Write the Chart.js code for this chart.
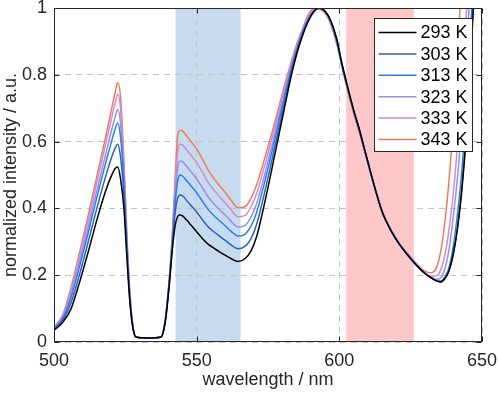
<!DOCTYPE html>
<html>
<head>
<meta charset="utf-8">
<script src="https://cdn.jsdelivr.net/npm/chart.js@4.4.1/dist/chart.umd.min.js"></script>
<style>
  html, body { margin: 0; padding: 0; background: #fff; }
  #chart { display: block; }
</style>
</head>
<body>
<canvas id="chart" width="498" height="393"></canvas>
<script>
// wavelength samples (nm)
const wavelengths = [
    500, 503, 506, 509, 512, 515, 518, 520, 521.5, 522.3,
    523.3, 524.5, 525.5, 526.5, 527.5, 528.7,
    533, 537.5,
    539, 540.5, 541.5, 542.5, 543.3, 544.1,
    545, 546.5, 548, 550, 552, 554, 556, 558, 560, 562, 564.5,
    567, 569, 571, 573, 575, 577, 579, 581, 583, 585, 587, 589, 591, 593,
    595, 597, 599, 601, 603, 605, 607, 609, 611, 613, 615, 618, 621, 624, 627,
    630, 632, 634, 635.5, 637, 638.5, 640, 641.5, 643, 644.5, 646, 648, 650
];

const k293 = [
    0.035, 0.058, 0.1, 0.18, 0.27, 0.365, 0.45, 0.495, 0.52, 0.524,
    0.49, 0.40, 0.26, 0.13, 0.05, 0.015,
    0.012, 0.015,
    0.06, 0.18, 0.28, 0.35, 0.375, 0.38,
    0.378, 0.365, 0.35, 0.33, 0.31, 0.293, 0.281, 0.27, 0.26, 0.25, 0.241,
    0.25, 0.272, 0.315, 0.385, 0.463, 0.545, 0.628, 0.71, 0.792, 0.86, 0.915, 0.958, 0.988, 1.0,
    0.99, 0.962, 0.91, 0.83, 0.76, 0.695, 0.637, 0.572, 0.507, 0.445, 0.39, 0.335, 0.293, 0.26, 0.23,
    0.205, 0.193, 0.183, 0.18, 0.19, 0.215, 0.265, 0.345, 0.46, 0.62, 0.85, 1.15, 1.45
];
const k303 = [
    0.038, 0.064, 0.118, 0.204, 0.300, 0.400, 0.493, 0.548, 0.582, 0.592,
    0.555, 0.44, 0.28, 0.138, 0.052, 0.015,
    0.012, 0.015,
    0.062, 0.185, 0.29, 0.39, 0.43, 0.44,
    0.438, 0.424, 0.409, 0.389, 0.366, 0.345, 0.330, 0.317, 0.304, 0.291, 0.279,
    0.287, 0.309, 0.352, 0.418, 0.492, 0.569, 0.647, 0.725, 0.802, 0.867, 0.92, 0.961, 0.99, 1.0,
    0.99, 0.961, 0.908, 0.829, 0.759, 0.694, 0.636, 0.571, 0.507, 0.445, 0.39, 0.335, 0.293, 0.26, 0.23,
    0.205, 0.193, 0.183, 0.18, 0.19, 0.216, 0.268, 0.35, 0.47, 0.635, 0.87, 1.17, 1.45
];
const k313 = [
    0.040, 0.069, 0.134, 0.227, 0.327, 0.433, 0.533, 0.596, 0.640, 0.656,
    0.615, 0.48, 0.30, 0.145, 0.055, 0.015,
    0.012, 0.015,
    0.064, 0.19, 0.30, 0.42, 0.48, 0.50,
    0.497, 0.483, 0.468, 0.447, 0.422, 0.397, 0.379, 0.363, 0.348, 0.332, 0.317,
    0.323, 0.346, 0.388, 0.451, 0.52, 0.592, 0.667, 0.741, 0.812, 0.874, 0.924, 0.965, 0.991, 1.0,
    0.989, 0.959, 0.905, 0.827, 0.757, 0.692, 0.634, 0.57, 0.506, 0.445, 0.39, 0.335, 0.294, 0.261, 0.231,
    0.206, 0.194, 0.184, 0.183, 0.195, 0.225, 0.29, 0.39, 0.52, 0.7, 0.93, 1.25, 1.5
];
const k323 = [
    0.042, 0.073, 0.144, 0.241, 0.345, 0.453, 0.559, 0.628, 0.676, 0.696,
    0.655, 0.5, 0.31, 0.15, 0.057, 0.015,
    0.012, 0.015,
    0.066, 0.193, 0.31, 0.44, 0.52, 0.542,
    0.540, 0.526, 0.51, 0.488, 0.462, 0.435, 0.414, 0.396, 0.38, 0.362, 0.344,
    0.349, 0.373, 0.414, 0.474, 0.541, 0.609, 0.680, 0.751, 0.819, 0.879, 0.928, 0.967, 0.992, 1.0,
    0.988, 0.957, 0.902, 0.825, 0.755, 0.69, 0.632, 0.569, 0.505, 0.445, 0.39, 0.336, 0.294, 0.262, 0.232,
    0.207, 0.195, 0.188, 0.192, 0.22, 0.28, 0.38, 0.5, 0.66, 0.86, 1.08, 1.35, 1.6
];
const k333 = [
    0.044, 0.077, 0.156, 0.257, 0.365, 0.477, 0.588, 0.663, 0.718, 0.742,
    0.70, 0.525, 0.32, 0.155, 0.058, 0.015,
    0.012, 0.015,
    0.068, 0.197, 0.32, 0.47, 0.565, 0.592,
    0.590, 0.575, 0.559, 0.537, 0.509, 0.478, 0.456, 0.435, 0.417, 0.396, 0.375,
    0.379, 0.404, 0.444, 0.502, 0.565, 0.629, 0.696, 0.764, 0.828, 0.885, 0.932, 0.97, 0.994, 1.0,
    0.987, 0.955, 0.9, 0.823, 0.753, 0.688, 0.63, 0.568, 0.504, 0.445, 0.391, 0.337, 0.295, 0.263, 0.234,
    0.208, 0.197, 0.198, 0.215, 0.26, 0.34, 0.45, 0.6, 0.78, 0.98, 1.18, 1.45, 1.7
];
const k343 = [
    0.045, 0.08, 0.165, 0.27, 0.38, 0.495, 0.61, 0.69, 0.75, 0.777,
    0.735, 0.545, 0.33, 0.16, 0.06, 0.015,
    0.012, 0.015,
    0.07, 0.2, 0.33, 0.5, 0.615, 0.634,
    0.632, 0.617, 0.6, 0.578, 0.548, 0.515, 0.49, 0.468, 0.448, 0.425, 0.402,
    0.405, 0.43, 0.47, 0.525, 0.585, 0.645, 0.71, 0.775, 0.835, 0.89, 0.935, 0.978, 0.998, 0.996,
    0.985, 0.95, 0.895, 0.82, 0.75, 0.685, 0.628, 0.567, 0.503, 0.445, 0.392, 0.338, 0.296, 0.264, 0.236,
    0.212, 0.207, 0.222, 0.27, 0.36, 0.49, 0.66, 0.88, 1.1, 1.3, 1.5, 1.75, 1.95
];

const seriesLabels = ['293 K', '303 K', '313 K', '323 K', '333 K', '343 K'];
const seriesValues = [k293, k303, k313, k323, k333, k343];
const seriesColors = ['#000000', '#2f5fbf', '#2580f5', '#9a8fe2', '#d28ad2', '#f07a5c'];

// shaded wavelength windows (nm)
const blueBand = [542.6, 565.4];
const redBand = [602.4, 626.1];

const xTicks = [500, 550, 600, 650];
const yTicks = [0, 0.2, 0.4, 0.6, 0.8, 1];

const FONT = 'Liberation Sans, Arial, Helvetica, sans-serif';
const AXIS_COLOR = '#262626';

function fillBand(chart, band, color) {
    const {ctx, chartArea, scales} = chart;
    const x1 = scales.x.getPixelForValue(band[0]);
    const x2 = scales.x.getPixelForValue(band[1]);
    ctx.save();
    ctx.fillStyle = color;
    ctx.fillRect(x1, chartArea.top, x2 - x1, chartArea.bottom - chartArea.top);
    ctx.restore();
}

const bandsPlugin = {
    id: 'bands',
    beforeDraw(chart) {
        // blue window sits under the grid, red one over it
        fillBand(chart, blueBand, '#c6dcee');
    },
    beforeDatasetsDraw(chart) {
        fillBand(chart, redBand, '#ffc8c8');
    }
};

const frameAndLegendPlugin = {
    id: 'frameAndLegend',
    afterDatasetsDraw(chart) {
        const {ctx, chartArea, scales} = chart;
        const l = Math.round(chartArea.left) + 0.5;
        const r = Math.round(chartArea.right) - 0.5;
        const t = Math.round(chartArea.top) + 0.5;
        const b = Math.round(chartArea.bottom) - 0.5;

        ctx.save();
        ctx.strokeStyle = AXIS_COLOR;
        ctx.lineWidth = 1;
        ctx.strokeRect(l, t, r - l, b - t);

        // inward ticks on all four sides
        const tl = 5;
        ctx.beginPath();
        xTicks.forEach(v => {
            const x = Math.round(scales.x.getPixelForValue(v)) + 0.5;
            ctx.moveTo(x, b); ctx.lineTo(x, b - tl);
            ctx.moveTo(x, t); ctx.lineTo(x, t + tl);
        });
        yTicks.forEach(v => {
            const y = Math.round(scales.y.getPixelForValue(v)) + 0.5;
            ctx.moveTo(l, y); ctx.lineTo(l + tl, y);
            ctx.moveTo(r, y); ctx.lineTo(r - tl, y);
        });
        ctx.stroke();

        // legend box, top right inside the axes
        const boxW = 98, boxH = 133, rowH = 21.4;
        const bx = Math.round(chartArea.right - 10 - boxW) + 0.5;
        const by = Math.round(chartArea.top + 10) + 0.5;
        ctx.fillStyle = '#ffffff';
        ctx.fillRect(bx, by, boxW, boxH);
        ctx.strokeStyle = AXIS_COLOR;
        ctx.strokeRect(bx, by, boxW, boxH);

        ctx.font = '18px ' + FONT;
        ctx.textBaseline = 'middle';
        ctx.textAlign = 'left';
        chart.data.datasets.forEach((ds, i) => {
            const y = by + 14 + i * rowH;
            ctx.strokeStyle = ds.borderColor;
            ctx.lineWidth = 1.5;
            ctx.beginPath();
            ctx.moveTo(bx + 4, y);
            ctx.lineTo(bx + 42, y);
            ctx.stroke();
            ctx.fillStyle = '#000000';
            ctx.fillText(ds.label, bx + 46, y + 1);
        });
        ctx.restore();
    }
};

const datasets = seriesLabels.map((label, i) => ({
    label: label,
    data: wavelengths.map((w, j) => ({x: w, y: seriesValues[i][j]})),
    borderColor: seriesColors[i],
    borderWidth: 1.5,
    pointRadius: 0,
    fill: false,
    cubicInterpolationMode: 'monotone'
}));

new Chart(document.getElementById('chart').getContext('2d'), {
    type: 'line',
    data: {datasets: datasets},
    options: {
        responsive: false,
        animation: false,
        devicePixelRatio: 1,
        layout: {padding: {top: 8, right: 16, left: 0, bottom: 0}},
        plugins: {
            legend: {display: false},
            tooltip: {enabled: false}
        },
        scales: {
            x: {
                type: 'linear',
                min: 500,
                max: 650,
                afterBuildTicks: axis => { axis.ticks = xTicks.map(v => ({value: v})); },
                afterFit: axis => {
                    axis.height = 51;
                    axis.paddingLeft = 0;
                    axis.paddingRight = 0;
                },
                grid: {color: '#c4c4c4', lineWidth: 1, drawTicks: false},
                border: {display: false, dash: [6, 5]},
                ticks: {
                    padding: 8,
                    color: AXIS_COLOR,
                    font: {family: FONT, size: 18},
                    maxRotation: 0,
                    callback: v => String(v)
                },
                title: {
                    display: true,
                    text: 'wavelength / nm',
                    color: AXIS_COLOR,
                    font: {family: FONT, size: 18},
                    padding: {top: 0, bottom: 2}
                }
            },
            y: {
                type: 'linear',
                min: 0,
                max: 1,
                afterBuildTicks: axis => { axis.ticks = yTicks.map(v => ({value: v})); },
                afterFit: axis => {
                    axis.width = 54;
                    axis.paddingTop = 0;
                    axis.paddingBottom = 0;
                },
                grid: {color: '#c4c4c4', lineWidth: 1, drawTicks: false},
                border: {display: false, dash: [6, 5]},
                ticks: {
                    padding: 7,
                    color: AXIS_COLOR,
                    font: {family: FONT, size: 18},
                    callback: v => String(+v.toFixed(1))
                },
                title: {
                    display: true,
                    text: 'normalized intensity / a.u.',
                    color: AXIS_COLOR,
                    font: {family: FONT, size: 18},
                    padding: {top: 0, bottom: 0}
                }
            }
        }
    },
    plugins: [bandsPlugin, frameAndLegendPlugin]
});
</script>
</body>
</html>
